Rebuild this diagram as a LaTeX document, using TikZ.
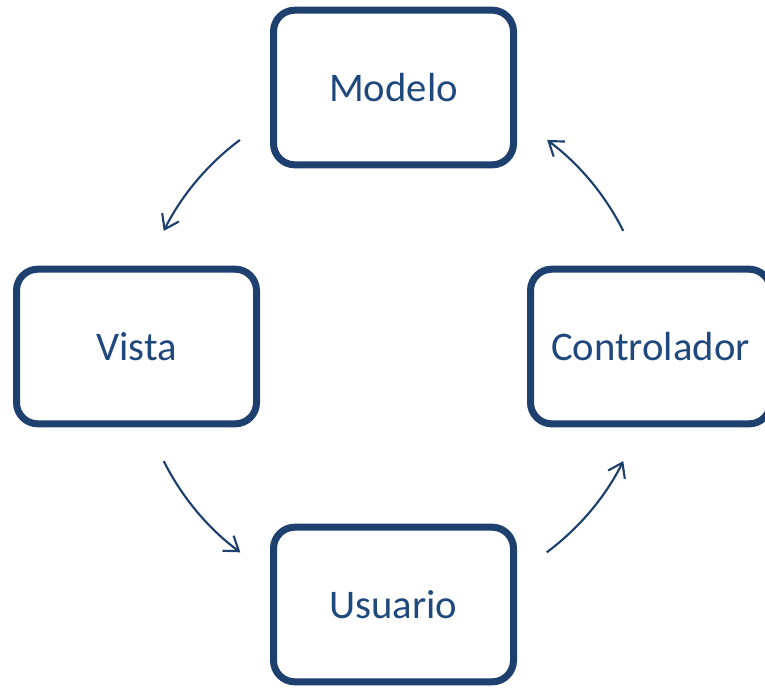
\documentclass[tikz,border=0pt]{standalone}
\usepackage{fontspec}
\setmainfont{Carlito}
\usepackage{xcolor}
\usetikzlibrary{arrows.meta,shadows}

\definecolor{frameblue}{RGB}{30,64,110}
\definecolor{textblue}{RGB}{31,73,125}

\begin{document}
\begin{tikzpicture}[x=0.75pt,y=0.75pt]
	\tikzstyle{part}=[draw=frameblue, line width=5.25pt, rounded corners=16pt, fill=white,
		minimum width=180pt, minimum height=116pt, inner sep=0pt, text=textblue,
		font=\fontsize{30.5}{36}\selectfont,
		drop shadow={opacity=0.18, shadow xshift=1.5pt, shadow yshift=-2pt}]
	\tikzstyle{flow}=[draw=frameblue, line width=1.6pt, -{Straight Barb[length=10pt,width=14pt]}]
	\useasboundingbox (0,0) rectangle (765,-687);
	% the four boxes
	\node [part] (modelo) at (393.5,-87.5) {Modelo};
	\node [part] (vista) at (136.5,-346.5) {Vista};
	\node [part] (controlador) at (650.5,-346.5) {Controlador};
	\node [part] (usuario) at (393.5,-604.5) {Usuario};
	% arrows run on a circle round the middle
	\coordinate (hub) at (393.5,-346);
	\draw [flow] (hub) ++(126.7:257) arc [start angle=126.7, end angle=153.4, radius=257];
	\draw [flow] (hub) ++(206.6:257) arc [start angle=206.6, end angle=233.4, radius=257];
	\draw [flow] (hub) ++(306.6:257) arc [start angle=306.6, end angle=333.4, radius=257];
	\draw [flow] (hub) ++(26.6:257) arc [start angle=26.6, end angle=53.3, radius=257];
\end{tikzpicture}
\end{document}
